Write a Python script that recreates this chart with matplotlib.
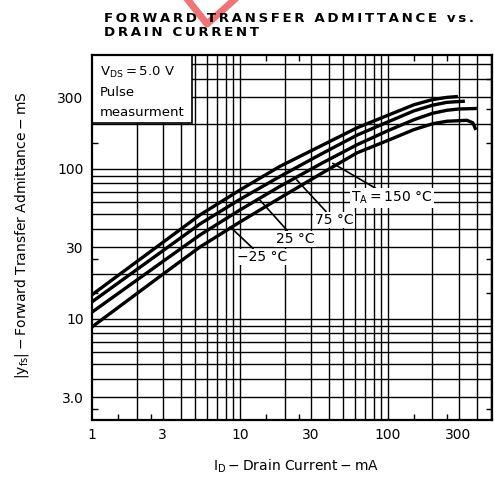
import matplotlib
matplotlib.use("Agg")
import matplotlib.pyplot as plt
from matplotlib.patches import Rectangle
from matplotlib.lines import Line2D

# ---------------- data ----------------
drain_current_m25 = [1, 3, 5.37, 10, 18.6, 35, 61.8, 100, 150, 200, 250, 297]
yfs_m25 = [14.5, 32.3, 49.4, 72.4, 104, 142, 188, 228, 268, 290, 300, 304]

drain_current_25 = [1, 3, 5.37, 10, 18.6, 35, 61.8, 100, 150, 200, 250, 331]
yfs_25 = [13.0, 28.4, 43.0, 62.7, 89.0, 125, 168, 206, 244, 266, 278, 283]

drain_current_75 = [1, 3, 5.37, 10, 18.6, 35, 61.8, 100, 150, 200, 250, 300, 399]
yfs_75 = [11.1, 24.1, 36.3, 53.3, 76.5, 108, 145, 180, 213, 235, 246, 251, 253]

drain_current_150 = [1, 3, 5.37, 10, 18.6, 35, 61.8, 100, 150, 200, 250, 342, 375, 393]
yfs_150 = [8.85, 19.8, 30.2, 44.3, 64.0, 92.5, 128, 155, 183, 200, 208, 211, 203, 182]

series_labels = ["\u221225 \u00b0C", "25 \u00b0C", "75 \u00b0C", "T$_{\\rm A}$\u2009=\u2009150 \u00b0C"]

x_ticks = [1, 3, 10, 30, 100, 300]
x_tick_labels = ["1", "3", "10", "30", "100", "300"]
y_ticks = [3, 10, 30, 100, 300]
y_tick_labels = ["3.0", "10", "30", "100", "300"]

title_lines = ["FORWARD TRANSFER ADMITTANCE vs.", "DRAIN CURRENT"]

# ---------------- figure ----------------
W = H = 494
fig = plt.figure(figsize=(W / 100, H / 100), dpi=100)
ax = fig.add_axes([92 / W, (H - 420) / H, 400 / W, 365 / H])
ax.set_xscale("log")
ax.set_yscale("log")
ax.set_xlim(1, 505)
ax.set_ylim(2.12, 575)

# log-paper grid
grid_kw = dict(color="black", lw=1.0, zorder=1)
for dec in (1, 10, 100):
    for m in range(1, 10):
        v = m * dec
        if 1 < v < 505:
            ax.axvline(v, **grid_kw)
for dec in (1, 10, 100):
    for m in range(1, 10):
        v = m * dec
        if 2.12 < v < 575:
            ax.axhline(v, **grid_kw)

# curves
curves = [(drain_current_m25, yfs_m25), (drain_current_25, yfs_25),
          (drain_current_75, yfs_75), (drain_current_150, yfs_150)]
for xs, ys in curves:
    ax.plot(xs, ys, color="black", lw=2.4, solid_capstyle="butt",
            solid_joinstyle="round", zorder=3)

# ticks
ax.set_xticks(x_ticks)
ax.set_xticklabels(x_tick_labels)
ax.set_yticks(y_ticks)
ax.set_yticklabels(y_tick_labels)
ax.set_xticks([1.5, 2.5, 15, 25, 150, 250], minor=True)
ax.set_yticks([2.5, 15, 25, 150, 250, 400], minor=True)
ax.tick_params(axis="both", which="major", length=0, labelsize=10, pad=6)
ax.tick_params(axis="both", which="minor", length=4, width=1.0, direction="in",
               top=True, right=True, labelbottom=False, labelleft=False)
for s in ax.spines.values():
    s.set_linewidth(1.6)
    s.set_zorder(5)

# inset box
box = Rectangle((0, 1), 100 / 400, -68 / 365, transform=ax.transAxes,
                facecolor="white", edgecolor="black", lw=1.2, zorder=4)
ax.add_patch(box)
ax.text(8 / 400, 1 - 17 / 365, "V$_{\\rm DS}$\u2009=\u20095.0 V", transform=ax.transAxes,
        fontsize=9.5, va="center", zorder=6)
ax.text(8 / 400, 1 - 38 / 365, "Pulse", transform=ax.transAxes,
        fontsize=9.5, va="center", zorder=6)
ax.text(8 / 400, 1 - 57 / 365, "measurment", transform=ax.transAxes,
        fontsize=9.5, va="center", zorder=6)

# annotations
ann = [
    (series_labels[3], (42.4, 109), (106.7, 64.1)),
    (series_labels[2], (24.2, 84.5), (43.1, 45.7)),
    (series_labels[1], (13.6, 62.2), (23.5, 34.1)),
    (series_labels[0], (8.58, 41.1), (14.1, 25.9)),
]
for lab, xy, xyt in ann:
    ax.annotate(lab, xy=xy, xytext=xyt, fontsize=10, ha="center", va="center",
                bbox=dict(boxstyle="square,pad=0.1", fc="white", ec="none"),
                arrowprops=dict(arrowstyle="-", lw=1.2, color="black",
                                shrinkA=0, shrinkB=0),
                zorder=6)

# titles / labels
def spaced(s):
    return "\u2009".join(s)

fig.text(104 / W, 1 - 12 / H, spaced(title_lines[0]) + "\n" + spaced(title_lines[1]),
         fontsize=9.6, fontweight="bold", va="top", ha="left", linespacing=1.15)
fig.text(296 / W, 1 - 466 / H, "I$_{\\rm D}$\u2009\u2212\u2009Drain Current\u2009\u2212\u2009mA",
         fontsize=10, ha="center", va="center")
fig.text(22 / W, 1 - 235 / H,
         "|y$_{\\rm fs}$|\u2009\u2212\u2009Forward Transfer Admittance\u2009\u2212\u2009mS",
         fontsize=10, ha="center", va="center", rotation=90)

# red watermark mark at the top
fig.add_artist(Line2D([188 / W, 207 / W, 234 / W], [1.0, 1 - 24 / H, 1.0],
                      color="#f05a5a", lw=5, alpha=0.85, transform=fig.transFigure))

fig.savefig("out.png", dpi=100, facecolor="white")
